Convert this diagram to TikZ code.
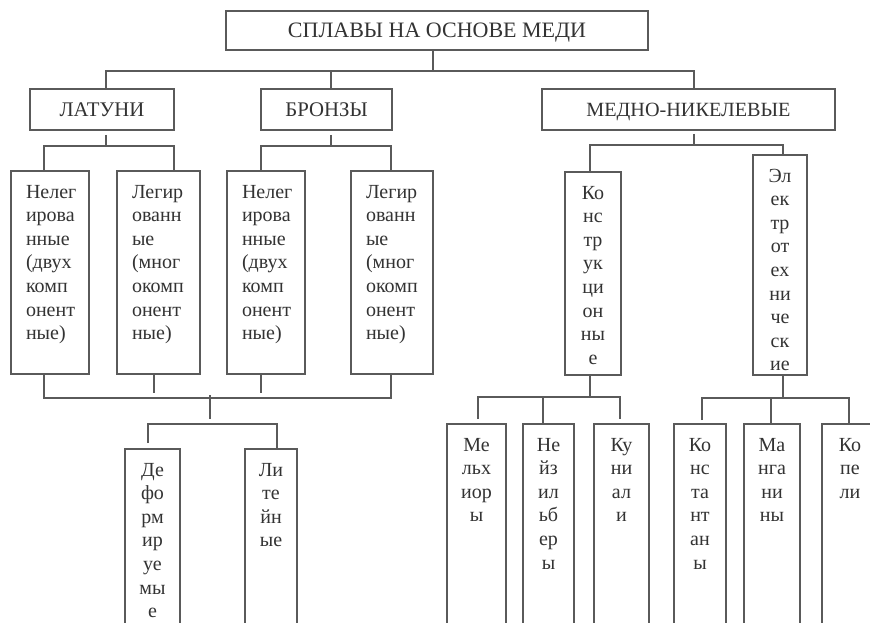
\documentclass[tikz,border=0pt]{standalone}
\usepackage{fontspec}
\setmainfont{Liberation Serif}
\definecolor{ln}{HTML}{5A5A5A}
\definecolor{tx}{HTML}{333333}
\tikzset{
  bx/.style={draw=ln, line width=2pt, inner sep=0pt, anchor=north west, text=tx,
    font=\fontsize{20}{23.6}\selectfont},
  hd/.style={draw=ln, line width=2pt, inner sep=0pt, text=tx,
    font=\fontsize{20.8}{24}\selectfont, text height=13.5pt, text depth=0pt},
  cn/.style={draw=ln, line width=2pt},
}
\newcommand\tbox[7]{\node[bx] (#1) at (#2,#3)
  {\parbox[c][\dimexpr #5pt-#3pt\relax][t]{\dimexpr #4pt-#2pt\relax}{#6\vspace*{10.5pt}\strut #7}};}
\newcommand\lft{\raggedright\leftskip=15pt }
\begin{document}
\begin{tikzpicture}[x=1pt,y=-1pt]
\clip (0,0) rectangle (870,623);
\fill[white] (0,0) rectangle (870,623);

% headers
\node[hd, font=\fontsize{22}{26}\selectfont, text height=14.5pt, minimum width=422pt, minimum height=39pt] (top) at (437,30.5) {СПЛАВЫ НА ОСНОВЕ МЕДИ};
\node[hd, minimum width=144pt, minimum height=41pt] (lat) at (102,109.5) {ЛАТУНИ};
\node[hd, minimum width=131pt, minimum height=41pt] (bron) at (326.5,109.5) {БРОНЗЫ};
\node[hd, font=\fontsize{20.2}{24}\selectfont, minimum width=293pt, minimum height=41pt] (mn) at (688.5,109.5) {МЕДНО-НИКЕЛЕВЫЕ};

% second row
\tbox{n1}{10}{170}{88}{373}{\lft}{Нелег\\ирова\\нные\\(двух\\комп\\онент\\ные)}
\tbox{n2}{116}{170}{199}{373}{\lft}{Легир\\ованн\\ые\\(мног\\окомп\\онент\\ные)}
\tbox{n3}{226}{170}{304}{373}{\lft}{Нелег\\ирова\\нные\\(двух\\комп\\онент\\ные)}
\tbox{n4}{350}{170}{432}{373}{\lft}{Легир\\ованн\\ые\\(мног\\окомп\\онент\\ные)}
\tbox{k}{564}{171}{620}{374}{\centering}{Ко\\нс\\тр\\ук\\ци\\он\\ны\\е}
\tbox{e}{752}{154}{806}{374}{\centering}{Эл\\ек\\тр\\от\\ех\\ни\\че\\ск\\ие}

% third row
\tbox{def}{124}{448}{179}{640}{\centering}{Де\\фо\\рм\\ир\\уе\\мы\\е}
\tbox{lit}{244}{448}{296}{640}{\centering}{Ли\\те\\йн\\ые}
\tbox{mel}{446}{423}{505}{640}{\centering}{Ме\\льх\\иор\\ы}
\tbox{nei}{522}{423}{573}{640}{\centering}{Не\\йз\\ил\\ьб\\ер\\ы}
\tbox{kun}{593}{423}{648}{640}{\centering}{Ку\\ни\\ал\\и}
\tbox{kon}{673}{423}{725}{640}{\centering}{Ко\\нс\\та\\нт\\ан\\ы}
\tbox{man}{743}{423}{799}{640}{\centering}{Ма\\нга\\ни\\ны}
\tbox{kop}{821}{423}{877}{640}{\centering}{Ко\\пе\\ли}

% level 1 connectors
\coordinate (c0) at (433,71);
\coordinate (c0L) at (106,71);
\coordinate (c0M) at (331,71);
\coordinate (c0R) at (694,71);
\draw[cn] (top.south -| c0) -- (c0);
\draw[cn] (lat.north -| c0L) -- (c0L) -- (c0R) -- (mn.north -| c0R);
\draw[cn] (c0M) -- (bron.north -| c0M);

% under ЛАТУНИ
\coordinate (c1t) at (106,135);
\coordinate (c1) at (106,146);
\coordinate (c1L) at (44,146);
\coordinate (c1R) at (174,146);
\draw[cn] (c1t) -- (c1);
\draw[cn] (n1.north -| c1L) -- (c1L) -- (c1R) -- (n2.north -| c1R);

% under БРОНЗЫ
\coordinate (c2t) at (331,135);
\coordinate (c2) at (331,146);
\coordinate (c2L) at (261,146);
\coordinate (c2R) at (391,146);
\draw[cn] (c2t) -- (c2);
\draw[cn] (n3.north -| c2L) -- (c2L) -- (c2R) -- (n4.north -| c2R);

% below second row (left)
\coordinate (c3L) at (44,398);
\coordinate (c3R) at (391,398);
\draw[cn] (n1.south -| c3L) -- (c3L) -- (c3R) -- (n4.south -| c3R);
\coordinate (s2) at (154,393);
\draw[cn] (n2.south -| s2) -- (s2);
\coordinate (s3) at (261,393);
\draw[cn] (n3.south -| s3) -- (s3);
\coordinate (c4t) at (210,395);
\coordinate (c4) at (210,419);
\draw[cn] (c4t) -- (c4);
\coordinate (c5e) at (148,443);
\coordinate (c5L) at (148,424);
\coordinate (c5R) at (277,424);
\draw[cn] (c5e) -- (c5L) -- (c5R) -- (lit.north -| c5R);

% under МЕДНО-НИКЕЛЕВЫЕ
\coordinate (c6t) at (694,134);
\coordinate (c6) at (694,145);
\coordinate (c6L) at (590,145);
\coordinate (c6R) at (783,145);
\draw[cn] (c6t) -- (c6);
\draw[cn] (k.north -| c6L) -- (c6L) -- (c6R) -- (e.north -| c6R);

% under Конструкционные
\coordinate (c7) at (590,397);
\coordinate (c7L) at (478,397);
\coordinate (c7M) at (543,397);
\coordinate (c7R) at (620,397);
\coordinate (c7Le) at (478,419);
\coordinate (c7Re) at (620,419);
\draw[cn] (k.south -| c7) -- (c7);
\draw[cn] (c7Le) -- (c7L) -- (c7R) -- (c7Re);
\draw[cn] (c7M) -- (nei.north -| c7M);

% under Электротехнические
\coordinate (c8) at (783,398);
\coordinate (c8L) at (702,398);
\coordinate (c8M) at (771,398);
\coordinate (c8R) at (849,398);
\coordinate (c8Le) at (702,420);
\draw[cn] (e.south -| c8) -- (c8);
\draw[cn] (c8Le) -- (c8L) -- (c8R) -- (kop.north -| c8R);
\draw[cn] (c8M) -- (man.north -| c8M);
\end{tikzpicture}
\end{document}
